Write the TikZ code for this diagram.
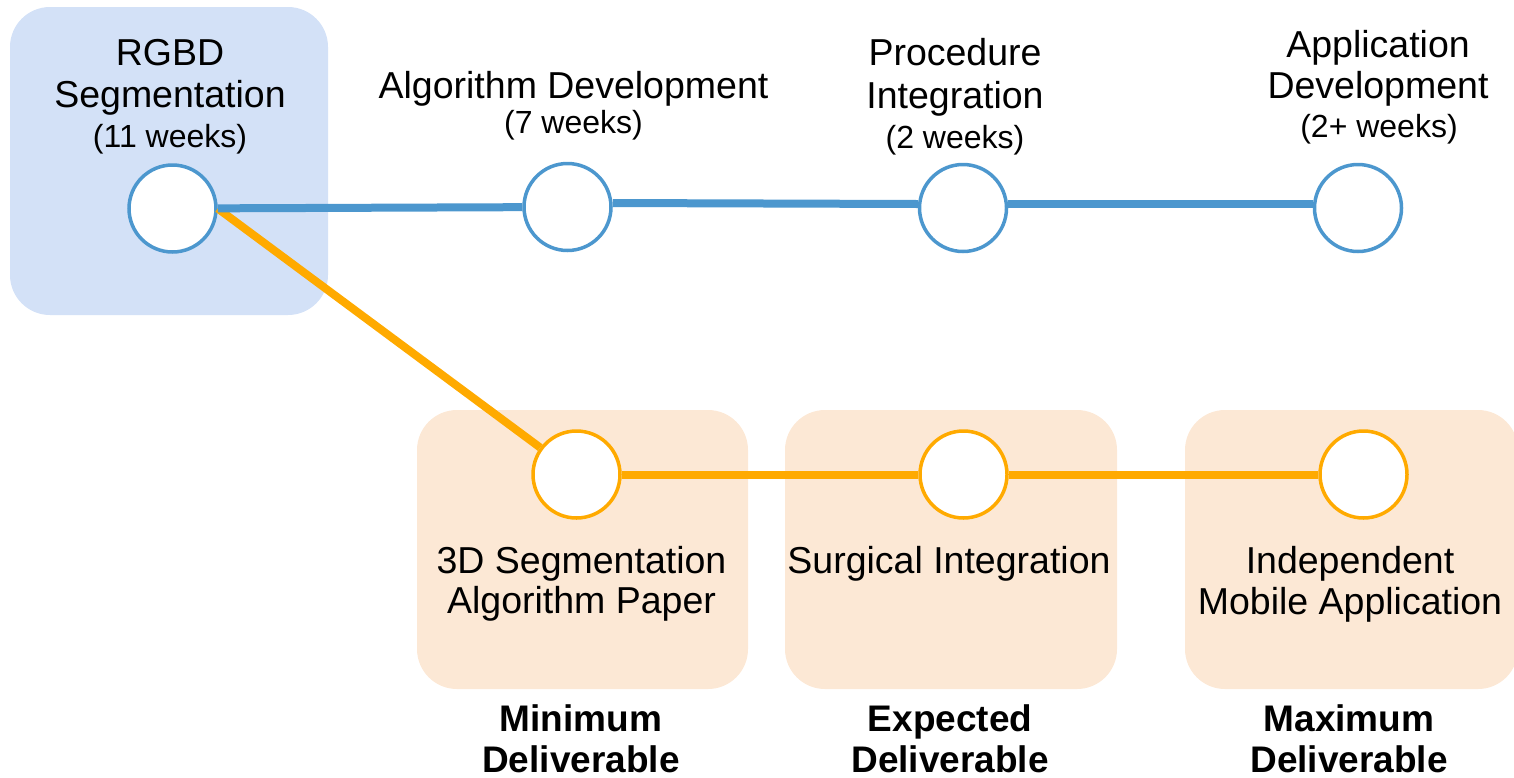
\documentclass[tikz,border=0pt]{standalone}
\usepackage{fontspec}
\setmainfont{Liberation Sans}
\definecolor{lineblue}{HTML}{4C97CE}
\definecolor{boxblue}{HTML}{D3E1F7}
\definecolor{lineorange}{HTML}{FFAA00}
\definecolor{boxorange}{HTML}{FCE8D5}
\begin{document}
\begin{tikzpicture}[x=1pt,y=-1pt,
  bluebox/.style={fill=boxblue, rounded corners=40pt},
  orangebox/.style={fill=boxorange, rounded corners=40pt},
  milestone/.style={circle, fill=white, line width=3.5pt, minimum size=87pt, inner sep=0pt},
  bm/.style={milestone, draw=lineblue},
  om/.style={milestone, draw=lineorange},
  lbl/.style={anchor=base, inner sep=0pt, font=\fontsize{37.5}{42}\selectfont},
  wk/.style={anchor=base, inner sep=0pt, font=\fontsize{32}{36}\selectfont},
  deliv/.style={anchor=base, inner sep=0pt, font=\fontsize{37}{42}\selectfont\bfseries},
  bline/.style={draw=lineblue, line width=8pt},
  oline/.style={draw=lineorange, line width=8pt}]
\useasboundingbox (0,0) rectangle (1514,777);
% boxes
\fill[bluebox] (10,7) rectangle (328,315);
\fill[orangebox] (417,410) rectangle (748,689);
\fill[orangebox] (785,410) rectangle (1117,689);
\fill[orangebox] (1185,410) rectangle (1518,689);
% milestones
\node[bm] (c1) at (172.5,208.5) {};
\node[bm] (c2) at (567.5,207) {};
\node[bm] (c3) at (963,208) {};
\node[bm] (c4) at (1358,208) {};
\node[om] (o1) at (576.5,474.5) {};
\node[om] (o2) at (963.5,474.5) {};
\node[om] (o3) at (1363.5,474.5) {};
% connectors
\draw[oline] (c1.east) -- (o1);
\draw[bline] (c1) -- (c2);
\draw[bline] ([yshift=4pt]c2.east) -- ([yshift=4pt]c3.west);
\draw[bline] ([yshift=4pt]c3.east) -- ([yshift=4pt]c4.west);
\draw[oline] (o1) -- (o2);
\draw[oline] (o2) -- (o3);
% top labels
\node[lbl] (l1a) at (170,65) {RGBD};
\node[lbl] (l1b) at (170,107) {Segmentation};
\node[wk]  (l1c) at (170,147) {(11 weeks)};
\node[lbl] (l2a) at (573.5,98) {Algorithm Development};
\node[wk]  (l2b) at (573.5,133) {(7 weeks)};
\node[lbl] (l3a) at (955,65) {Procedure};
\node[lbl] (l3b) at (955,108) {Integration};
\node[wk]  (l3c) at (955,148) {(2 weeks)};
\node[lbl] (l4a) at (1378,57) {Application};
\node[lbl] (l4b) at (1378,98) {Development};
\node[wk]  (l4c) at (1379,137) {(2+ weeks)};
% bottom labels
\node[lbl] (d1a) at (581.5,573) {3D Segmentation};
\node[lbl] (d1b) at (581.5,613) {Algorithm Paper};
\node[lbl] (d2a) at (949,573) {Surgical Integration};
\node[lbl] (d3a) at (1350,573) {Independent};
\node[lbl] (d3b) at (1350,614) {Mobile Application};
% deliverables
\node[deliv] (m1a) at (581,731) {Minimum};
\node[deliv] (m1b) at (581,772) {Deliverable};
\node[deliv] (m2a) at (950,731) {Expected};
\node[deliv] (m2b) at (950,772) {Deliverable};
\node[deliv] (m3a) at (1349,731) {Maximum};
\node[deliv] (m3b) at (1349,772) {Deliverable};
\end{tikzpicture}
\end{document}
